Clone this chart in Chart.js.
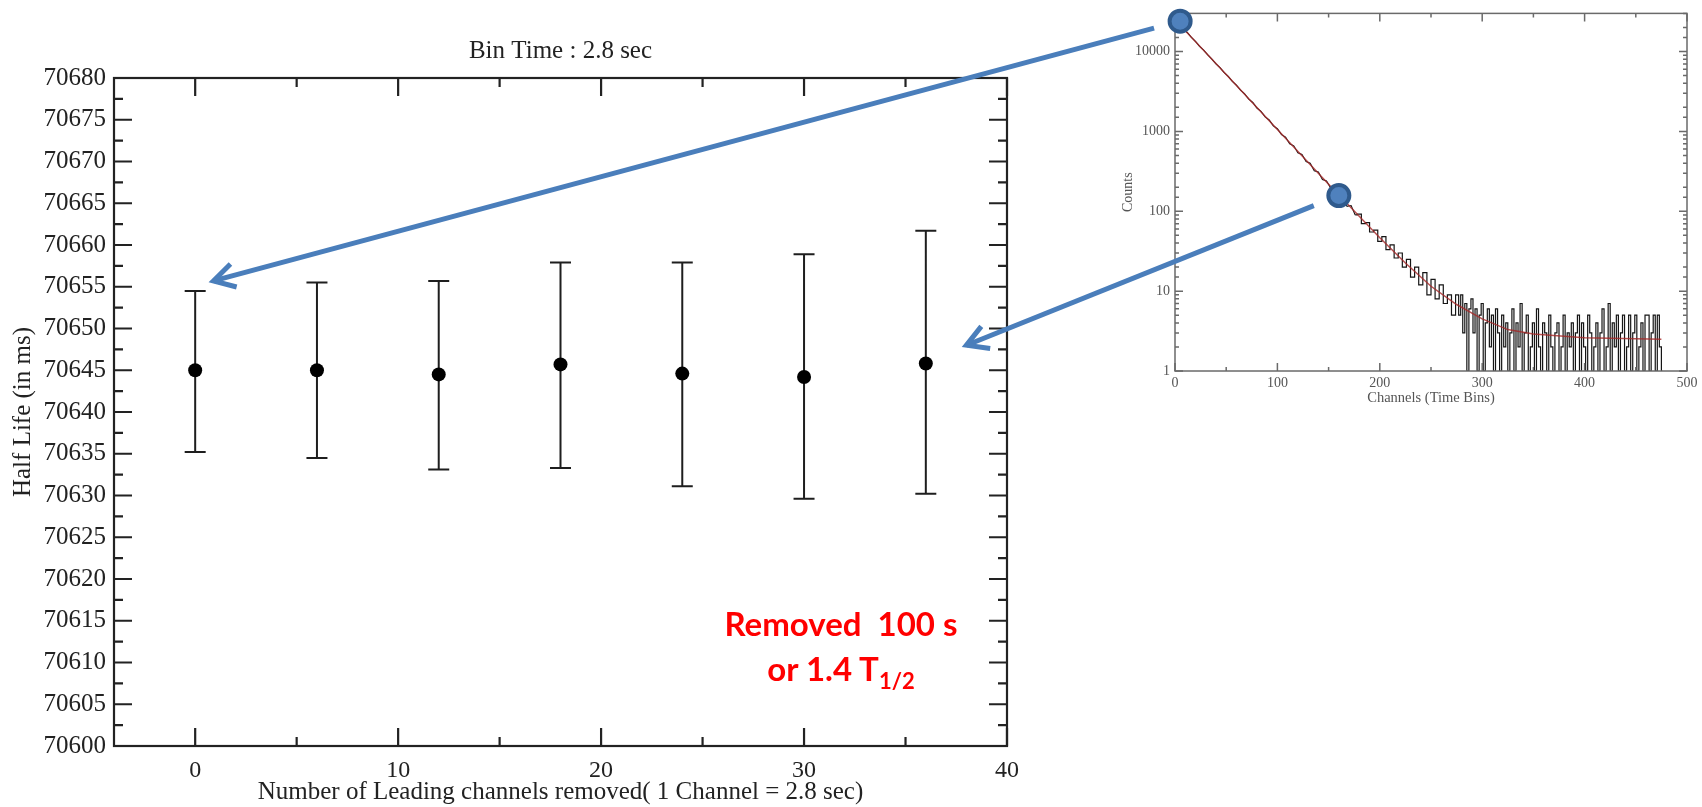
<!DOCTYPE html>
<html>
<head>
<meta charset="utf-8">
<script src="https://cdn.jsdelivr.net/npm/chart.js@4.4.1/dist/chart.umd.min.js"></script>
<style>
  body { margin: 0; background: #fff; width: 1702px; height: 807px; overflow: hidden; position: relative; }
  canvas { position: absolute; top: 0; }
  #inset { filter: blur(0.5px); }
  #note { position: absolute; left: 641px; width: 400px; top: 601px; text-align: center; color: #f00;
          font: bold 33px Lato, "Open Sans", sans-serif; line-height: 45px; }
  #note span { font-size: 22px; position: relative; top: 8px; }
</style>
</head>
<body>
<canvas id="main" width="1040" height="807" style="left:0"></canvas>
<canvas id="inset" width="602" height="407" style="left:1100px"></canvas>
<div id="note">Removed&nbsp; 100 s<br>or 1.4 T<span>1/2</span></div>
<canvas id="overlay" width="1702" height="807" style="left:0;pointer-events:none"></canvas>
<script>
// main plot: fitted half life vs. leading channels removed
const channelsRemoved = [0, 6, 12, 18, 24, 30, 36];
const halfLife = [70645.0, 70645.0, 70644.5, 70645.7, 70644.6, 70644.2, 70645.8];
const errLow  = [70635.2, 70634.5, 70633.1, 70633.3, 70631.1, 70629.6, 70630.2];
const errHigh = [70654.5, 70655.5, 70655.7, 70657.9, 70657.9, 70658.9, 70661.7];

// inset: decay curve, counts per channel
const decayChannels = [0, 4, 8, 12, 16, 20, 24, 28, 32, 36, 40, 44, 48, 52, 56, 60, 64, 68, 72, 76,
  80, 84, 88, 92, 96, 100, 104, 108, 112, 116, 120, 124, 128, 132, 136, 140, 144, 148, 152, 156,
  160, 164, 168, 172, 176, 180, 184, 188, 192, 196, 200, 204, 208, 212, 216, 220, 224, 228, 232, 236,
  240, 244, 248, 252, 256, 260, 264, 268, 272, 276,
  278, 280, 282, 284, 286, 288, 290, 292, 294, 296, 298, 300, 302, 304, 306, 308, 310, 312, 314, 316,
  318, 320, 322, 324, 326, 328, 330, 332, 334, 336, 338, 340, 342, 344, 346, 348, 350, 352, 354, 356,
  358, 360, 362, 364, 366, 368, 370, 372, 374, 376, 378, 380, 382, 384, 386, 388, 390, 392, 394, 396,
  398, 400, 402, 404, 406, 408, 410, 412, 414, 416, 418, 420, 422, 424, 426, 428, 430, 432, 434, 436,
  438, 440, 442, 444, 446, 448, 450, 452, 454, 456, 458, 460, 462, 464, 466, 468, 470, 472, 474, 476];
const decayCounts = [24800, 22300, 19400, 17300, 15000, 13400, 11600, 10400, 9100, 8050, 7000, 6300, 5450, 4880, 4230, 3790, 3280, 2950, 2540, 2300,
  1960, 1780, 1520, 1390, 1170, 1080, 910, 845, 700, 660, 540, 515, 420, 400, 322, 310, 250, 240, 196, 190,
  150, 148, 115, 118, 90, 92, 70, 72, 55, 58, 42, 48, 33, 38, 26, 30, 20, 25, 15, 20,
  12, 17, 9, 14, 8, 12, 7, 9, 5, 9,
  5, 9, 3, 7, 1, 6, 8, 3, 6, 1, 5, 7, 1, 4, 6, 2, 5, 1, 6, 3,
  1, 5, 2, 4, 1, 3, 6, 1, 4, 2, 7, 1, 3, 5, 1, 2, 4, 1, 6, 2,
  1, 4, 3, 1, 5, 2, 1, 3, 4, 1, 2, 5, 1, 3, 2, 4, 1, 3, 5, 1,
  4, 2, 1, 5, 3, 1, 2, 4, 1, 3, 6, 1, 2, 7, 1, 4, 2, 5, 1, 3,
  5, 1, 2, 5, 1, 3, 5, 1, 2, 4, 1, 5, 5, 1, 3, 5, 1, 5, 2, 1];
const fitChannels = [0, 50, 100, 150, 200, 225, 250, 275, 300, 325, 350, 400, 475];
const fitCounts = [25000, 5140, 1055, 218, 46.5, 22.5, 11.5, 6.8, 4.5, 3.3, 2.9, 2.6, 2.5];

// arrows: from a point on the decay curve to a point in the main plot
const arrowFrom = [[5, 24000], [160, 157]];
const arrowTo = [[0.9, 70655.7], [38.0, 70648.0]];

const serif = "'Liberation Serif', 'Times New Roman', serif";

// frame box + inward ticks on all four sides
const frameTicks = {
  id: 'frameTicks',
  afterDraw(chart, args, o) {
    const { ctx, chartArea: a } = chart;
    ctx.save();
    ctx.strokeStyle = o.color;
    ctx.lineWidth = o.width;
    ctx.strokeRect(a.left, a.top, a.right - a.left, a.bottom - a.top);
    ctx.beginPath();
    for (const id of ['x', 'y']) {
      const s = chart.scales[id];
      const vals = s.ticks.map(t => t.value);
      let majors, minors;
      if (s.type === 'logarithmic') {
        majors = vals.filter(v => Number.isInteger(Math.log10(v)));
        minors = vals.filter(v => !Number.isInteger(Math.log10(v)));
      } else {
        majors = vals;
        minors = vals.slice(1).map((v, i) => (v + vals[i]) / 2);
      }
      const draw = (v, len) => {
        const p = s.getPixelForValue(v);
        if (id === 'x') {
          ctx.moveTo(p, a.bottom); ctx.lineTo(p, a.bottom - len);
          ctx.moveTo(p, a.top); ctx.lineTo(p, a.top + len);
        } else {
          ctx.moveTo(a.left, p); ctx.lineTo(a.left + len, p);
          ctx.moveTo(a.right, p); ctx.lineTo(a.right - len, p);
        }
      };
      majors.forEach(v => draw(v, o.len));
      minors.forEach(v => draw(v, o.minorLen));
    }
    ctx.stroke();
    ctx.restore();
  }
};

// title centred over the plot box, not the whole canvas
const boxTitle = {
  id: 'boxTitle',
  afterDraw(chart, args, o) {
    const { ctx, chartArea: a } = chart;
    ctx.save();
    ctx.fillStyle = o.color;
    ctx.font = o.font;
    ctx.textAlign = 'center';
    ctx.textBaseline = 'middle';
    ctx.fillText(o.text, (a.left + a.right) / 2, o.y);
    ctx.restore();
  }
};

const errorBars = {
  id: 'errorBars',
  beforeDatasetsDraw(chart) {
    const { ctx, scales: { x, y } } = chart;
    ctx.save();
    ctx.strokeStyle = '#1e1e1e';
    ctx.lineWidth = 2;
    ctx.beginPath();
    channelsRemoved.forEach((c, i) => {
      const px = x.getPixelForValue(c);
      const lo = y.getPixelForValue(errLow[i]);
      const hi = y.getPixelForValue(errHigh[i]);
      ctx.moveTo(px, lo); ctx.lineTo(px, hi);
      ctx.moveTo(px - 10.5, lo); ctx.lineTo(px + 10.5, lo);
      ctx.moveTo(px - 10.5, hi); ctx.lineTo(px + 10.5, hi);
    });
    ctx.stroke();
    ctx.restore();
  }
};

const mainChart = new Chart(document.getElementById('main'), {
  type: 'scatter',
  data: {
    datasets: [{
      data: channelsRemoved.map((c, i) => ({ x: c, y: halfLife[i] })),
      backgroundColor: '#000',
      borderWidth: 0,
      pointRadius: 7
    }]
  },
  options: {
    responsive: false,
    animation: false,
    layout: { padding: { right: 33, top: 78 } },
    plugins: {
      legend: { display: false },
      tooltip: { enabled: false },
      boxTitle: { text: 'Bin Time : 2.8 sec', color: '#222', font: '25px ' + serif, y: 51 },
      frameTicks: { color: '#222', width: 2.2, len: 18, minorLen: 9 }
    },
    scales: {
      x: {
        type: 'linear', min: -4, max: 40,
        grid: { display: false, drawTicks: false }, border: { display: false },
        ticks: { stepSize: 10, includeBounds: false, color: '#222', padding: 10, font: { family: serif, size: 24 } },
        title: {
          display: true, text: 'Number of Leading channels removed( 1 Channel = 2.8 sec)',
          color: '#222', font: { family: serif, size: 25 }, padding: { top: 0, bottom: 0 }
        },
        afterFit(s) { s.height = 61; }
      },
      y: {
        min: 70600, max: 70680,
        grid: { display: false, drawTicks: false }, border: { display: false },
        ticks: {
          stepSize: 5, autoSkip: false, color: '#222', padding: 8, font: { family: serif, size: 25 },
          callback: v => v.toFixed(0)
        },
        title: {
          display: true, text: 'Half Life (in ms)',
          color: '#222', font: { family: serif, size: 25 }, padding: { top: 8, bottom: 0 }
        },
        afterFit(s) { s.width = 114; }
      }
    }
  },
  plugins: [errorBars, frameTicks, boxTitle]
});

// smooth part of the decay, then the noisy histogram tail drawn as steps
const decayPoints = decayChannels.map((c, i) => ({ x: c, y: decayCounts[i] }));

const insetChart = new Chart(document.getElementById('inset'), {
  type: 'line',
  data: {
    datasets: [{
      data: fitChannels.map((c, i) => ({ x: c, y: fitCounts[i] })),
      borderColor: 'rgba(165, 40, 40, 0.8)',
      borderWidth: 1.5,
      pointRadius: 0,
      order: 0
    }, {
      data: decayPoints.filter(p => p.x <= 176),
      borderColor: '#151515',
      borderWidth: 1.1,
      pointRadius: 0,
      order: 1
    }, {
      data: decayPoints.filter(p => p.x >= 176),
      borderColor: '#151515',
      borderWidth: 1.2,
      pointRadius: 0,
      stepped: 'middle',
      order: 1
    }]
  },
  options: {
    responsive: false,
    animation: false,
    layout: { padding: { right: 15, top: 12 } },
    plugins: {
      legend: { display: false },
      tooltip: { enabled: false },
      frameTicks: { color: '#6a6a6a', width: 1.5, len: 8, minorLen: 4 }
    },
    scales: {
      x: {
        type: 'linear', min: 0, max: 500,
        grid: { display: false, drawTicks: false }, border: { display: false },
        ticks: { stepSize: 100, color: '#555', padding: 4, font: { family: serif, size: 14 } },
        title: {
          display: true, text: 'Channels (Time Bins)', color: '#555',
          font: { family: serif, size: 14.5 }, padding: { top: 0, bottom: 0 }
        },
        afterFit(s) { s.height = 36; }
      },
      y: {
        type: 'logarithmic', min: 1, max: 30000,
        grid: { display: false, drawTicks: false }, border: { display: false },
        ticks: {
          autoSkip: false, color: '#555', padding: 5, font: { family: serif, size: 14 },
          callback: v => Number.isInteger(Math.log10(v)) ? String(v) : ''
        },
        title: {
          display: true, text: 'Counts', color: '#555',
          font: { family: serif, size: 14 }, padding: { top: 20, bottom: 0 }
        },
        afterFit(s) { s.width = 75; }
      }
    }
  },
  plugins: [frameTicks]
});

// blue arrows and markers drawn over both charts
function pagePoint(chart, v) {
  const cv = chart.canvas;
  return [cv.offsetLeft + chart.scales.x.getPixelForValue(v[0]),
          cv.offsetTop + chart.scales.y.getPixelForValue(v[1])];
}

const octx = document.getElementById('overlay').getContext('2d');
octx.strokeStyle = '#4a7ebb';
octx.lineWidth = 5;
const dots = [];
arrowFrom.forEach((f, i) => {
  const [sx, sy] = pagePoint(insetChart, f);
  const [tx, ty] = pagePoint(mainChart, arrowTo[i]);
  const ang = Math.atan2(ty - sy, tx - sx);
  octx.beginPath();
  octx.moveTo(sx + 27 * Math.cos(ang), sy + 27 * Math.sin(ang));
  octx.lineTo(tx, ty);
  octx.stroke();
  const back = ang + Math.PI;
  octx.beginPath();
  octx.moveTo(tx + 24 * Math.cos(back - 0.52), ty + 24 * Math.sin(back - 0.52));
  octx.lineTo(tx, ty);
  octx.lineTo(tx + 24 * Math.cos(back + 0.52), ty + 24 * Math.sin(back + 0.52));
  octx.stroke();
  dots.push([sx, sy]);
});
dots.forEach(([x, y]) => {
  octx.beginPath();
  octx.arc(x, y, 10.5, 0, Math.PI * 2);
  octx.fillStyle = '#4f81bd';
  octx.fill();
  octx.lineWidth = 4;
  octx.strokeStyle = '#2f5a8c';
  octx.stroke();
});
</script>
</body>
</html>
